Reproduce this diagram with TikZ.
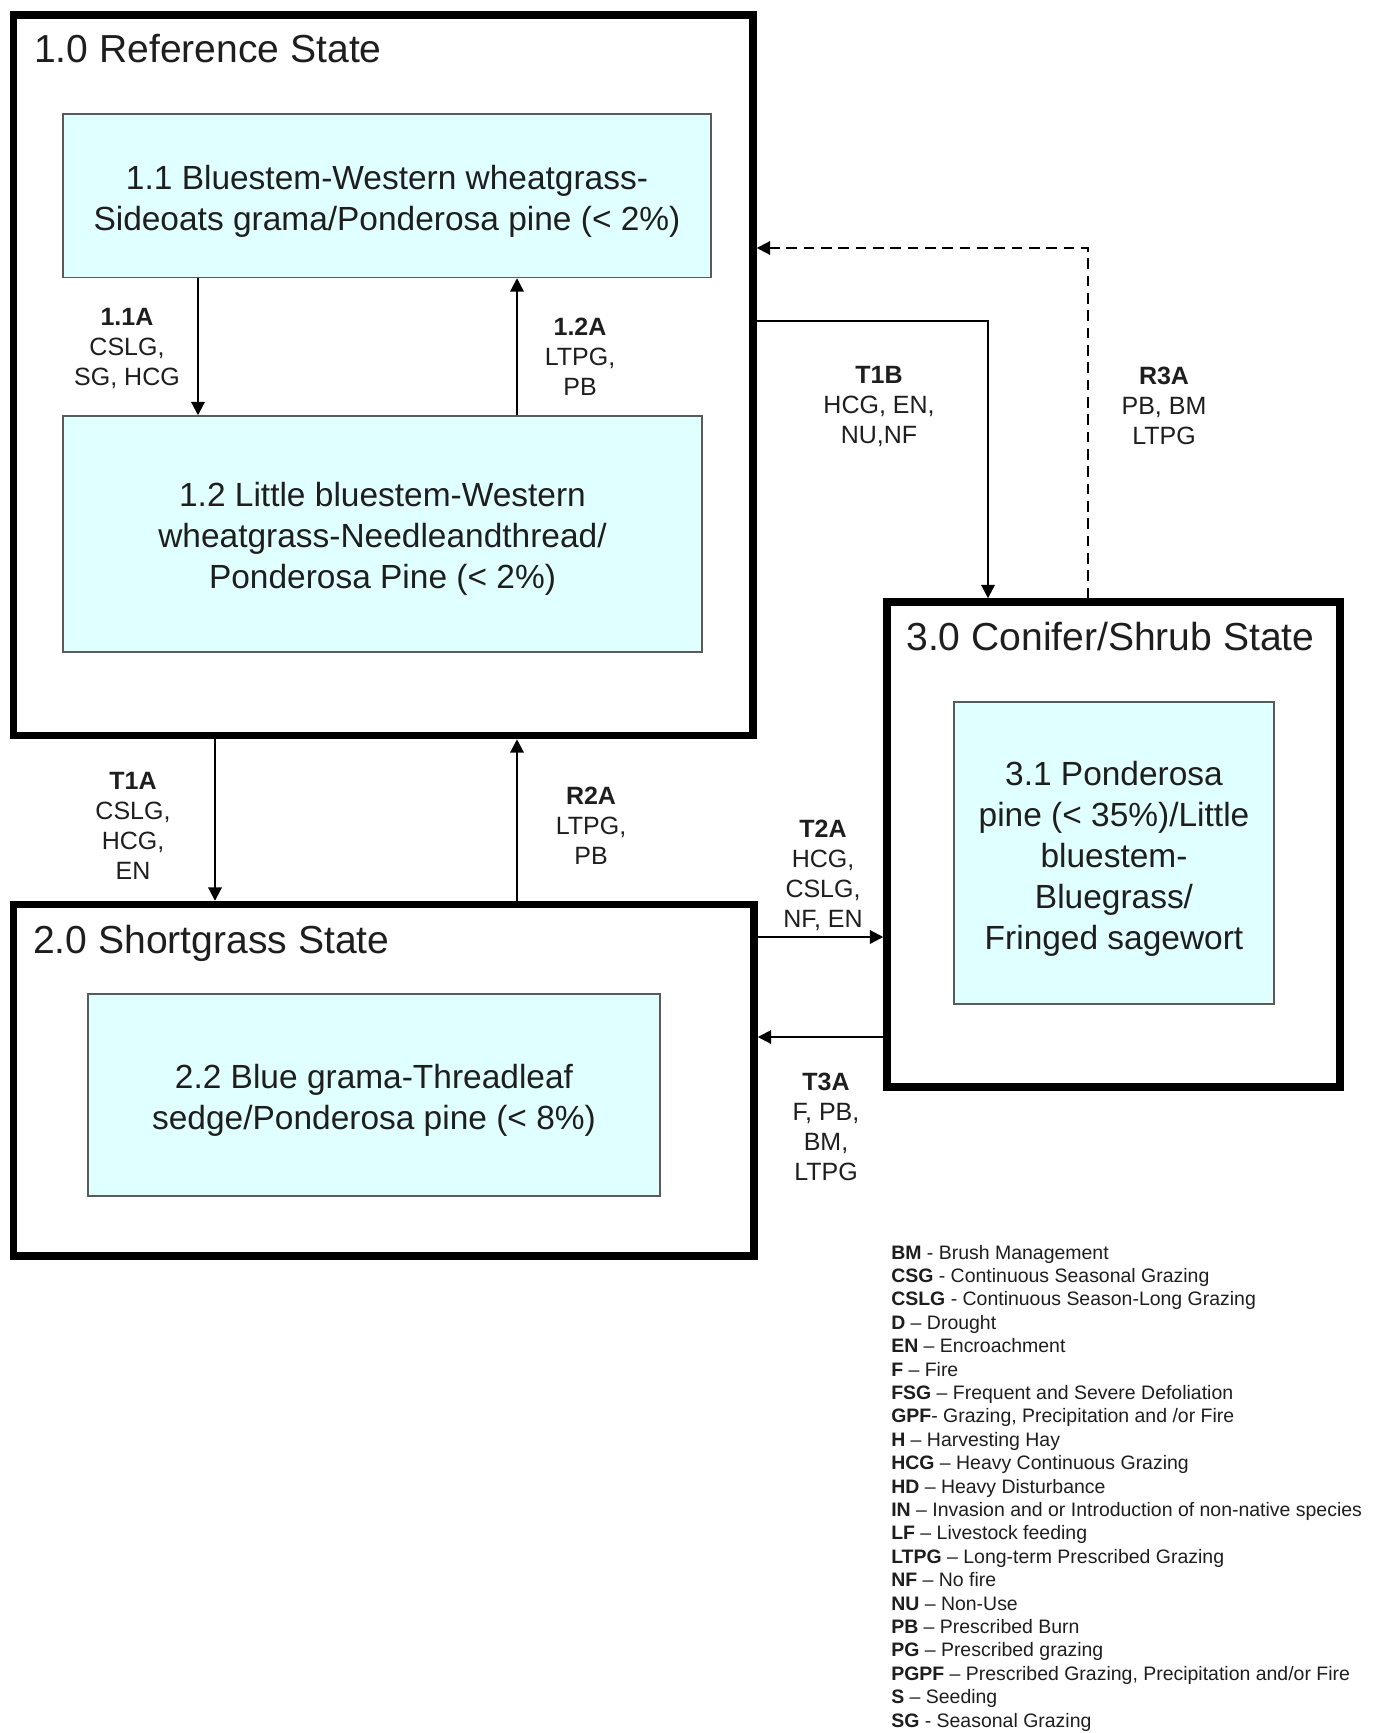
\documentclass[tikz,border=0pt]{standalone}
\usepackage{fontspec}
\setmainfont{Liberation Sans}
\usetikzlibrary{arrows.meta}
\definecolor{boxfill}{RGB}{224,255,255}
\definecolor{boxline}{RGB}{90,90,90}
\definecolor{txt}{RGB}{30,30,30}
\begin{document}
\begin{tikzpicture}[x=0.75pt,y=-0.75pt,
  statebox/.style={draw=black, line width=5.6pt, fill=white, inner sep=0pt},
  phasebox/.style={draw=boxline, line width=1.1pt, fill=boxfill, inner sep=0pt},
  phasetext/.style={align=center, text=txt, font=\fontsize{25.1}{30.75}\selectfont, inner sep=0pt},
  statetitle/.style={anchor=base west, text=txt, font=\fontsize{29.3}{35}\selectfont, inner sep=0pt},
  lab/.style={align=center, text=txt, font=\fontsize{18.75}{22.5}\selectfont, inner sep=0pt},
  arr/.style={line width=1.6pt, -{Triangle[length=10pt,width=10pt]}},
  dasharr/.style={arr, dash pattern=on 8pt off 5pt},
  leg/.style={anchor=base west, inner sep=0pt, text=txt, font=\fontsize{14.6}{17}\selectfont}]

\fill[white] (0,0) rectangle (1380,1733);

% state boxes
\node[statebox, minimum width=554.6pt, minimum height=540.4pt] (S1) at (383.25,375.25) {};
\node[statebox, minimum width=555.4pt, minimum height=263.6pt] (S2) at (383.75,1080.25) {};
\node[statebox, minimum width=339.75pt, minimum height=363.75pt] (S3) at (1113.5,844.5) {};

% titles
\node[statetitle] (T1) at (34,63) {1.0 Reference State};
\node[statetitle] (T2) at (33,953) {2.0 Shortgrass State};
\node[statetitle] (T3) at (906,650) {3.0 Conifer/Shrub State};

% community phase boxes
\node[phasebox, minimum width=486pt, minimum height=122.6pt] (B11) at (387,195.75) {};
\node[phasebox, minimum width=479.25pt, minimum height=177pt] (B12) at (382.5,534) {};
\node[phasebox, minimum width=429pt, minimum height=151.5pt] (B22) at (374,1095) {};
\node[phasebox, minimum width=240pt, minimum height=226.5pt] (B31) at (1114,853) {};

\node[phasetext] (B11t) at (387,201)
  {1.1 Bluestem-Western wheatgrass-\\Sideoats grama/Ponderosa pine (< 2\%)};
\node[phasetext] (B12t) at (382.5,539)
  {1.2 Little bluestem-Western\\wheatgrass-Needleandthread/\\Ponderosa Pine (< 2\%)};
\node[phasetext] (B22t) at (374,1100)
  {2.2 Blue grama-Threadleaf\\sedge/Ponderosa pine (< 8\%)};
\node[phasetext] (B31t) at (1114,859)
  {3.1 Ponderosa\\pine (< 35\%)/Little\\bluestem-\\Bluegrass/\\Fringed sagewort};

% connector guide coordinates
\coordinate (c11a) at (198,0);
\coordinate (c12a) at (517,0);
\coordinate (ct1a) at (215,0);
\coordinate (cr2a) at (517,0);
\coordinate (ct2a) at (0,937);
\coordinate (ct3a) at (0,1037);
\coordinate (ct1b) at (988,321);
\coordinate (cr3a) at (1088,248);

% connectors
\draw[arr] (B11.south -| c11a) -- (B12.north -| c11a);
\draw[arr] (B12.north -| c12a) -- (B11.south -| c12a);
\draw[arr] (S1.south -| ct1a) -- (S2.north -| ct1a);
\draw[arr] (S2.north -| cr2a) -- (S1.south -| cr2a);
\draw[arr] (S2.east |- ct2a) -- (S3.west |- ct2a);
\draw[arr] (S3.west |- ct3a) -- (S2.east |- ct3a);
\draw[arr] (S1.east |- ct1b) -- (ct1b) -- (S3.north -| ct1b);
\draw[dasharr] (S3.north -| cr3a) -- (cr3a) -- (S1.east |- cr3a);

% connector labels
\node[lab] (L11A) at (127,348) {\textbf{1.1A}\\CSLG,\\SG, HCG};
\node[lab] (L12A) at (580,357) {\textbf{1.2A}\\LTPG,\\PB};
\node[lab] (LT1A) at (133,826) {\textbf{T1A}\\CSLG,\\HCG,\\EN};
\node[lab] (LR2A) at (591,825.5) {\textbf{R2A}\\LTPG,\\PB};
\node[lab] (LT2A) at (823,875) {\textbf{T2A}\\HCG,\\CSLG,\\NF, EN};
\node[lab] (LT3A) at (826,1127) {\textbf{T3A}\\F, PB,\\BM,\\LTPG};
\node[lab] (LT1B) at (879,406) {\textbf{T1B}\\HCG, EN,\\NU,NF};
\node[lab] (LR3A) at (1164,406) {\textbf{R3A}\\PB, BM\\LTPG};

% legend
\node[leg] (g00) at (891,1259) {\textbf{BM} - Brush Management};
\node[leg] (g01) at (891,1282.4) {\textbf{CSG} - Continuous Seasonal Grazing};
\node[leg] (g02) at (891,1305.8) {\textbf{CSLG} - Continuous Season-Long Grazing};
\node[leg] (g03) at (891,1329.2) {\textbf{D} – Drought};
\node[leg] (g04) at (891,1352.6) {\textbf{EN} – Encroachment};
\node[leg] (g05) at (891,1376) {\textbf{F} – Fire};
\node[leg] (g06) at (891,1399.4) {\textbf{FSG} – Frequent and Severe Defoliation};
\node[leg] (g07) at (891,1422.8) {\textbf{GPF}- Grazing, Precipitation and /or Fire};
\node[leg] (g08) at (891,1446.2) {\textbf{H} – Harvesting Hay};
\node[leg] (g09) at (891,1469.6) {\textbf{HCG} – Heavy Continuous Grazing};
\node[leg] (g10) at (891,1493) {\textbf{HD} – Heavy Disturbance};
\node[leg] (g11) at (891,1516.4) {\textbf{IN} – Invasion and or Introduction of non-native species};
\node[leg] (g12) at (891,1539.8) {\textbf{LF} – Livestock feeding};
\node[leg] (g13) at (891,1563.2) {\textbf{LTPG} – Long-term Prescribed Grazing};
\node[leg] (g14) at (891,1586.6) {\textbf{NF} – No fire};
\node[leg] (g15) at (891,1610) {\textbf{NU} – Non-Use};
\node[leg] (g16) at (891,1633.4) {\textbf{PB} – Prescribed Burn};
\node[leg] (g17) at (891,1656.8) {\textbf{PG} – Prescribed grazing};
\node[leg] (g18) at (891,1680.2) {\textbf{PGPF} – Prescribed Grazing, Precipitation and/or Fire};
\node[leg] (g19) at (891,1703.6) {\textbf{S} – Seeding};
\node[leg] (g20) at (891,1727) {\textbf{SG} - Seasonal Grazing};
\end{tikzpicture}
\end{document}
